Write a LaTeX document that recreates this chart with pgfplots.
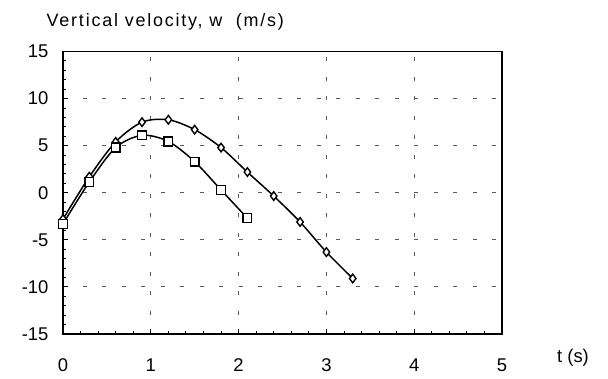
\documentclass[border=0pt]{standalone}
\usepackage{pgfplots}
\pgfplotsset{compat=1.18}
\usepackage{fontspec}
\setmainfont{Liberation Sans}
\newfontfamily\titlefont[LetterSpace=10]{Liberation Sans}
\begin{document}
\begin{tikzpicture}[x=1bp,y=1bp]
\path[use as bounding box] (0,0) rectangle (608,-378);
\begin{axis}[at={(63bp,-334bp)}, anchor=south west, scale only axis,
  width=439bp, height=282.5bp,
  xmin=0, xmax=5, ymin=-15, ymax=15,
  xtick={0,1,2,3,4,5}, ytick={-15,-10,-5,0,5,10,15},
  minor x tick num=4, minor y tick num=4,
  tick align=inside, xtick pos=left, ytick pos=left,
  major tick length=5bp, minor tick length=3bp,
  tick style={black, line width=0.9bp},
  axis line style={black, line width=1.6bp},
  grid=major,
  major grid style={black!65, line width=0.9bp, dash pattern=on 4bp off 15.5bp},
  /pgf/number format/assume math mode=true,
  ticklabel style={font=\fontsize{18.5}{21}\selectfont},
  xticklabel style={yshift=-21bp},
  yticklabel style={xshift=-11bp},
  clip=false,
]
\addplot[black, line width=1.5bp, smooth, mark=diamond*, mark size=4.3bp,
  mark options={fill=white, solid, line width=1.4bp}] coordinates {
(0,-2.8) (0.3,1.7) (0.6,5.4) (0.9,7.5) (1.2,7.75) (1.5,6.7) (1.8,4.8) (2.1,2.2) (2.4,-0.35) (2.7,-3.1) (3.0,-6.3) (3.3,-9.1)
};
\addplot[black, line width=1.5bp, smooth, mark=square*, mark size=4.4bp,
  mark options={fill=white, solid, line width=1.4bp}] coordinates {
(0,-3.3) (0.3,1.15) (0.6,4.8) (0.9,6.1) (1.2,5.45) (1.5,3.3) (1.8,0.3) (2.1,-2.7)
};
\end{axis}
\node[anchor=base west, inner sep=0pt, font=\titlefont\fontsize{18}{21}\selectfont] at (46.5,-26.5) {Vertical velocity, w\ \ (m/s)};
\node[anchor=center, inner sep=0pt, font=\fontsize{18.5}{21}\selectfont] at (573,-358) {t (s)};
\end{tikzpicture}
\end{document}
